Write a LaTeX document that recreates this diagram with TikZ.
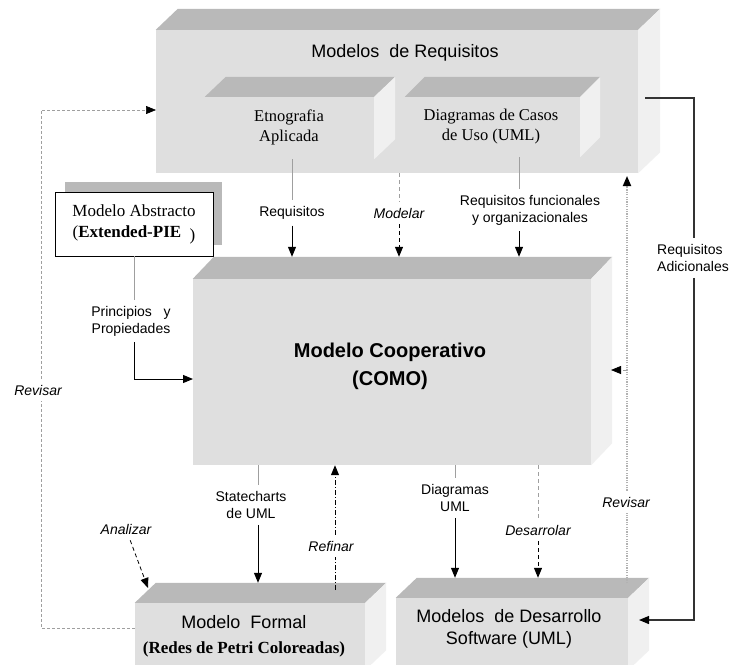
\documentclass[tikz,border=0pt]{standalone}
\usepackage{fontspec}
\setmainfont{Liberation Serif}
\setsansfont{Liberation Sans}
\usetikzlibrary{arrows.meta,calc}

% caras superior y lateral de una caja
\newcommand{\prisma}[3]{%
  \fill[carasup] (#1.north west) -- ++(#2,#3) -- ($(#1.north east)+(#2,#3)$) -- (#1.north east) -- cycle;
  \fill[caralat] (#1.north east) -- ++(#2,#3) -- ($(#1.south east)+(#2,#3)$) -- (#1.south east) -- cycle;
}

\begin{document}
\begin{tikzpicture}[x=1pt,y=-1pt,>={Triangle[length=10pt,width=8pt,color=black]},
  caja/.style={fill=gray!25,inner sep=0pt},
  carasup/.style={fill=gray!55},
  caralat/.style={fill=gray!12},
  etiq/.style={font=\sffamily\fontsize{14}{17}\selectfont,align=center,inner xsep=2pt,inner ysep=6pt},
  etiqit/.style={etiq,font=\sffamily\itshape\fontsize{14}{17}\selectfont},
  gris/.style={gray!75,line width=0.8pt},
  flecha/.style={->,line width=1pt},
  discont/.style={dash pattern=on 4pt off 3pt},
  refin/.style={line width=1pt,dash pattern=on 5pt off 2pt on 1pt off 2pt},
  adic/.style={black!80,line width=1.2pt},
  punteado/.style={gray!60,line width=1.8pt,dash pattern=on 1.2pt off 1.2pt},
  lazo/.style={gray!75,line width=0.7pt,dash pattern=on 3pt off 2pt}]

  \fill[white] (0,0) rectangle (730,664);
  \useasboundingbox (0,0) rectangle (730,664);

  % Modelos de Requisitos
  \node[caja,minimum width=482pt,minimum height=143pt] (req) at (397,101.5) {};
  \prisma{req}{22}{-21}
  \node[font=\sffamily\fontsize{18}{22}\selectfont] (treq) at (405,53) {Modelos\ \ de Requisitos};

  \node[caja,minimum width=169pt,minimum height=62pt] (etno) at (289.5,128) {};
  \prisma{etno}{21}{-20}
  \node[align=center,font=\fontsize{16.5}{20}\selectfont] (tetno) at (289,127) {Etnografia\\Aplicada};

  \node[caja,minimum width=175pt,minimum height=60pt] (dcu) at (492.5,127) {};
  \prisma{dcu}{20}{-20}
  \node[align=center,font=\fontsize{16.5}{20}\selectfont] (tdcu) at (491,127) {Diagramas de Casos\\de Uso (UML)};

  % Modelo Abstracto (con sombra)
  \fill[gray!55] (65,182) rectangle (222,245);
  \node[draw,fill=white,line width=0.8pt,minimum width=158pt,minimum height=64pt,
    align=center,font=\fontsize{17}{21}\selectfont] (abst) at (134,224)
    {Modelo Abstracto\\(\textbf{Extended-PIE}\ \ \raisebox{-3pt}{)}};

  % Modelo Cooperativo
  \node[caja,minimum width=398pt,minimum height=186pt] (como) at (392,372) {};
  \prisma{como}{21}{-22}
  \node[font=\sffamily\bfseries\fontsize{20}{28}\selectfont,align=center] (tcomo) at (390,366)
    {Modelo Cooperativo\\(COMO)};

  % Modelo Formal
  \node[caja,minimum width=230pt,minimum height=67pt] (formal) at (250,636.5) {};
  \prisma{formal}{21}{-20}
  \node[align=center,font=\fontsize{17}{25}\selectfont] (tformal) at (244,636)
    {{\sffamily\fontsize{18}{25}\selectfont Modelo\ \ Formal}\\{\bfseries (Redes de Petri Coloreadas)}};

  % Modelos de Desarrollo
  \node[caja,minimum width=232pt,minimum height=72pt] (desa) at (512,634) {};
  \prisma{desa}{21}{-20}
  \node[font=\sffamily\fontsize{18}{22}\selectfont,align=center] (tdesa) at (509,629)
    {Modelos\ \ de Desarrollo\\Software (UML)};

  % etiquetas
  \node[etiq] (lreq) at (292,213) {Requisitos};
  \node[etiqit] (lmod) at (399,213) {Modelar};
  \node[etiq] (lrf) at (530,210) {Requisitos funcionales\\y organizacionales};
  \node[etiq,align=left] (ladic) at (693,258) {Requisitos\\Adicionales};
  \node[etiq] (lprin) at (131,321) {Principios\ \ \ y\\Propiedades};
  \node[etiqit] (lrev1) at (38,390) {Revisar};
  \node[etiqit] (lrev2) at (626,502) {Revisar};
  \node[etiq] (lstate) at (251,505) {Statecharts\\de UML};
  \node[etiqit] (lref) at (331,546) {Refinar};
  \node[etiqit] (lana) at (126,529) {Analizar};
  \node[etiq] (ldiag) at (455,498) {Diagramas\\UML};
  \node[etiqit] (ldes) at (538,530) {Desarrolar};

  % puntos auxiliares
  \coordinate (comoback) at ($(como.north)+(0,-22)$);
  \coordinate (formalback) at ($(formal.north)+(0,-20)$);
  \coordinate (desaback) at ($(desa.north)+(0,-20)$);
  \coordinate (xrf) at (519,0);
  \coordinate (xst) at (258,0);
  \coordinate (refA) at (335,590);
  \coordinate (anaB) at (148,588);
  \coordinate (prinB) at (193,379);
  \coordinate (adicA) at (645,98);
  \coordinate (adicB) at (694,620);
  \coordinate (adicC) at (639,620);
  \coordinate (revA) at (627,583);
  \coordinate (revB) at (627,176);
  \coordinate (revC) at (627,370);
  \coordinate (comolat) at (611,370);
  \coordinate (lazoA) at (41,628);
  \coordinate (lazoB) at (156,110);

  % Requisitos
  \draw[gris] (etno.south -| lreq) -- (lreq);
  \draw[flecha] (lreq) -- (lreq |- comoback);

  % Modelar
  \draw[gris,discont] (req.south -| lmod) -- (lmod);
  \draw[flecha,discont] (lmod) -- (lmod |- comoback);

  % Requisitos funcionales y organizacionales
  \draw[gris] (dcu.south -| xrf) -- (lrf.north -| xrf);
  \draw[flecha] (lrf.south -| xrf) -- (comoback -| xrf);

  % Principios y Propiedades
  \draw[gris] (abst.south) -- (abst.south |- lprin.north);
  \draw[flecha] (abst.south |- lprin.south) |- (prinB);

  % Requisitos Adicionales
  \draw[adic] (adicA) -| (ladic.north -| adicB);
  \draw[adic,->] (ladic.south -| adicB) |- (adicC);

  % Revisar (derecha)
  \draw[punteado] (revA) -- (lrev2.south -| revA);
  \draw[punteado,->] (lrev2.north -| revA) -- (revB);
  \draw[gris,discont,->] (revC) -- (comolat);

  % Statecharts de UML
  \draw[gris] (como.south -| xst) -- (lstate.north -| xst);
  \draw[flecha] (lstate.south -| xst) -- (formalback -| xst);

  % Refinar
  \draw[refin] (refA) -- (lref.south -| refA);
  \draw[refin,->] (lref.north -| refA) -- (como.south -| refA);

  % Analizar
  \draw[discont,line width=0.8pt,->] (lana) -- (anaB);

  % Diagramas UML
  \draw[gris] (como.south -| ldiag) -- (ldiag);
  \draw[flecha] (ldiag) -- (ldiag |- desaback);

  % Desarrolar
  \draw[gris,discont] (como.south -| ldes) -- (ldes);
  \draw[flecha,discont] (ldes) -- (ldes |- desaback);

  % Revisar (izquierda)
  \draw[lazo] (formal.west |- lazoA) -- (lazoA) -- (lrev1.south -| lazoA);
  \draw[lazo,->] (lrev1.north -| lazoA) |- (lazoB);

\end{tikzpicture}
\end{document}
